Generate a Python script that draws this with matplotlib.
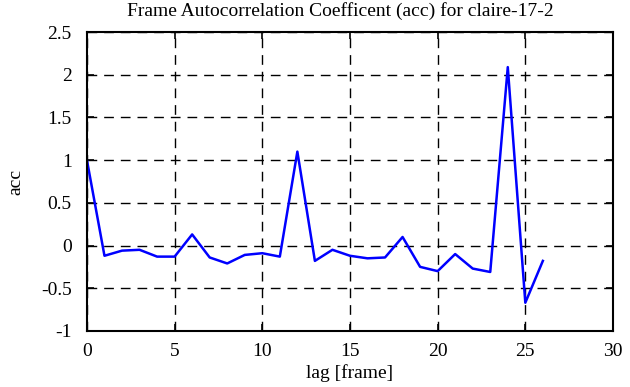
import matplotlib
matplotlib.use("Agg")
import matplotlib.pyplot as plt

lags = list(range(27))
acc = [1.0, -0.12, -0.06, -0.05, -0.13, -0.13, 0.13, -0.14, -0.21, -0.11,
       -0.09, -0.13, 1.1, -0.18, -0.05, -0.12, -0.15, -0.14, 0.1, -0.25,
       -0.30, -0.10, -0.27, -0.31, 2.09, -0.67, -0.18]
xticks = [0, 5, 10, 15, 20, 25, 30]
yticks = [-1, -0.5, 0, 0.5, 1, 1.5, 2, 2.5]
ylabels = ["-1", "-0.5", "0", "0.5", "1", "1.5", "2", "2.5"]

plt.rcParams['font.family'] = ['Liberation Serif', 'DejaVu Serif']
fig = plt.figure(figsize=(6.3, 3.87), dpi=100)
ax = fig.add_axes([0.138, 0.145, 0.835, 0.772])
ax.plot(lags, acc, color='#0000ff', lw=1.8)
ax.set_xlim(0, 30)
ax.set_ylim(-1, 2.5)
ax.set_xticks(xticks)
ax.set_yticks(yticks)
ax.set_yticklabels(ylabels)
ax.grid(True, color='black', linestyle=(0, (7, 5)), lw=1.0)
ax.tick_params(direction='in', top=True, right=True, length=5, width=1.2,
               labelsize=14)
ax.tick_params(axis='x', pad=9)
ax.tick_params(axis='y', pad=11)
for s in ax.spines.values():
    s.set_linewidth(1.5)
ax.set_title("Frame Autocorrelation Coefficent (acc) for claire-17-2", fontsize=14, pad=12, x=0.482)
ax.set_xlabel("lag [frame]", fontsize=14, labelpad=3)
ax.set_ylabel("acc", fontsize=14, labelpad=12)
fig.savefig("out.png", dpi=100)
